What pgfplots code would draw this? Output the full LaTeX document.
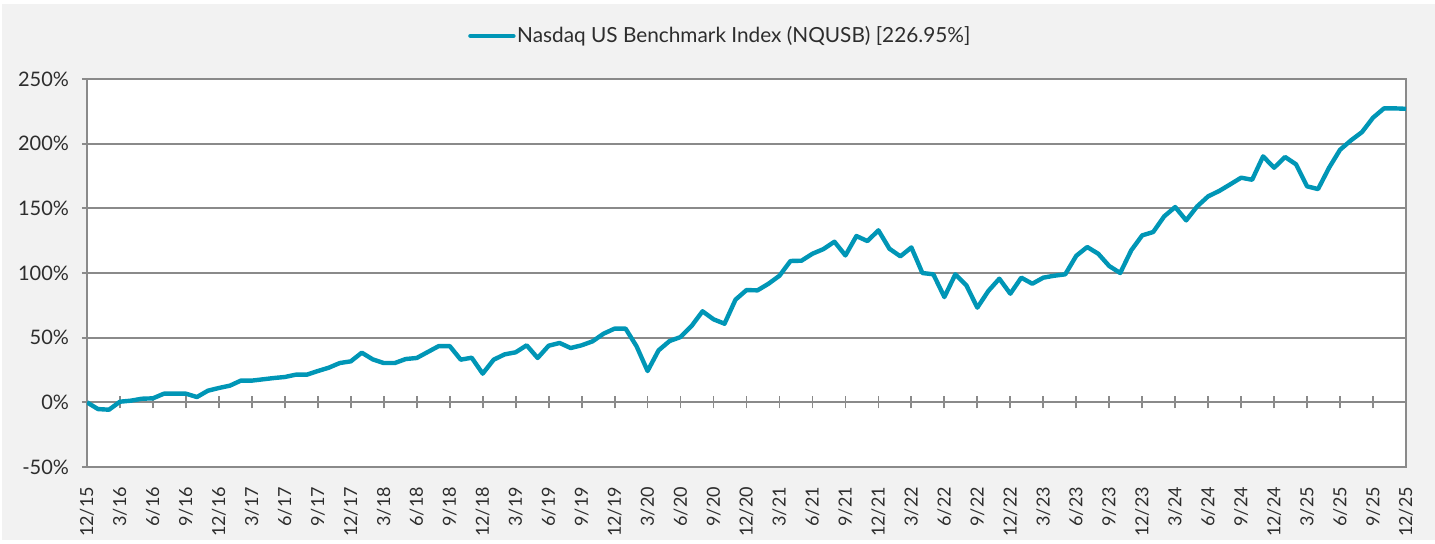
\documentclass[border=0pt]{standalone}
\usepackage{pgfplots}
\pgfplotsset{compat=1.18}
\usepackage{fontspec}
\setmainfont{Lato}
\definecolor{bgray}{HTML}{F2F2F2}
\definecolor{gridgray}{HTML}{8A8A8A}
\definecolor{linecol}{RGB}{0,150,182}
\definecolor{txt}{RGB}{45,45,45}
\begin{document}
\begin{tikzpicture}
\fill[white] (-43.5pt,-38pt) rectangle (674pt,233.5pt);
\fill[bgray] (-42.5pt,-36.5pt) rectangle (674pt,231.5pt);
\fill[white] (0pt,0pt) rectangle (659.5pt,194pt);
% overlay axis for tick marks on the zero line
\begin{axis}[
  scale only axis, width=659.5pt, height=194pt,
  xmin=0, xmax=120, ymin=-50, ymax=250,
  axis x line=middle, axis y line=none,
  axis line style={-, draw=gridgray, line width=0.9pt},
  xtick={0,3,...,120}, xticklabels={},
  tick align=center, major tick length=6pt,
  tick style={draw=gridgray, line width=0.9pt},
  hide obscured x ticks=false,
]
\end{axis}
\begin{axis}[
  scale only axis, width=659.5pt, height=194pt,
  xmin=0, xmax=120, ymin=-50, ymax=250,
  axis line style={draw=gridgray, line width=0.9pt},
  ytick={-50,0,50,100,150,200,250},
  yticklabels={-50\%,0\%,50\%,100\%,150\%,200\%,250\%},
  ymajorgrids, grid style={draw=gridgray, line width=0.9pt},
  xtick={0,3,...,120},
  xticklabels={12/15,3/16,6/16,9/16,12/16,3/17,6/17,9/17,12/17,3/18,6/18,9/18,12/18,3/19,6/19,9/19,12/19,3/20,6/20,9/20,12/20,3/21,6/21,9/21,12/21,3/22,6/22,9/22,12/22,3/23,6/23,9/23,12/23,3/24,6/24,9/24,12/24,3/25,6/25,9/25,12/25},
  x tick style={draw=none},
  y tick style={draw=gridgray, line width=0.9pt},
  ytick pos=left, tick align=outside, major tick length=2.5pt,
  xticklabel style={rotate=90, anchor=east, font=\fontsize{9}{11}\selectfont, text=txt},
  yticklabel style={font=\fontsize{10}{12}\selectfont, text=txt},
  xticklabel shift=4pt, yticklabel shift=3pt,
  legend style={draw=none, fill=none, at={(0.48,1.111)}, anchor=center,
    font=\fontsize{10.4}{12}\selectfont, text=txt,
    nodes={inner sep=0.8pt}},
  legend image code/.code={\draw[#1, line width=2.2pt, line cap=round] (0pt,0pt) -- (21.5pt,0pt);},
]
\addplot[linecol, line width=2.2pt, line join=round] coordinates {
(0,0) (1,-5.2) (2,-5.7) (3,0.5) (4,1.3) (5,2.8) (6,3.1) (7,6.7) (8,6.7) (9,6.7)
(10,4.1) (11,9.0) (12,11.1) (13,12.9) (14,16.8) (15,16.8) (16,17.8) (17,18.8) (18,19.6) (19,21.4)
(20,21.4) (21,24.2) (22,26.8) (23,30.4) (24,31.7) (25,38.4) (26,33.2) (27,30.4) (28,30.4) (29,33.5)
(30,34.3) (31,38.9) (32,43.5) (33,43.5) (34,33.0) (35,34.5) (36,22.2) (37,33.0) (38,37.1) (39,38.7)
(40,44.1) (41,34.3) (42,43.8) (43,45.9) (44,42.0) (45,44.1) (46,47.2) (47,53.1) (48,57.0) (49,57.0)
(50,43.3) (51,24.2) (52,40.2) (53,47.4) (54,50.5) (55,59.0) (56,70.4) (57,64.2) (58,60.8) (59,79.4)
(60,86.8) (61,86.6) (62,91.7) (63,97.9) (64,109.3) (65,109.5) (66,114.9) (67,118.5) (68,124.2) (69,113.6)
(70,128.6) (71,124.7) (72,133.0) (73,118.8) (74,112.9) (75,119.8) (76,100.0) (77,99.0) (78,81.4) (79,99.0)
(80,90.5) (81,73.2) (82,86.1) (83,95.6) (84,84.0) (85,96.4) (86,91.7) (87,96.4) (88,97.9) (89,99.0)
(90,113.3) (91,120.1) (92,114.9) (93,105.4) (94,100.0) (95,117.5) (96,129.1) (97,131.7) (98,143.8) (99,151.0)
(100,140.7) (101,151.5) (102,159.3) (103,163.4) (104,168.5) (105,173.7) (106,172.1) (107,190.2) (108,181.4) (109,189.7)
(110,184.0) (111,167.0) (112,164.9) (113,181.4) (114,195.3) (115,202.6) (116,209.0) (117,220.1) (118,227.3) (119,227.3)
(120,226.95)
};
\addlegendentry{Nasdaq US Benchmark Index (NQUSB) [226.95\%]}
\end{axis}
\pgfresetboundingbox
\path[use as bounding box] (-43.5pt,-38pt) rectangle (674pt,233.5pt);
\end{tikzpicture}
\end{document}
